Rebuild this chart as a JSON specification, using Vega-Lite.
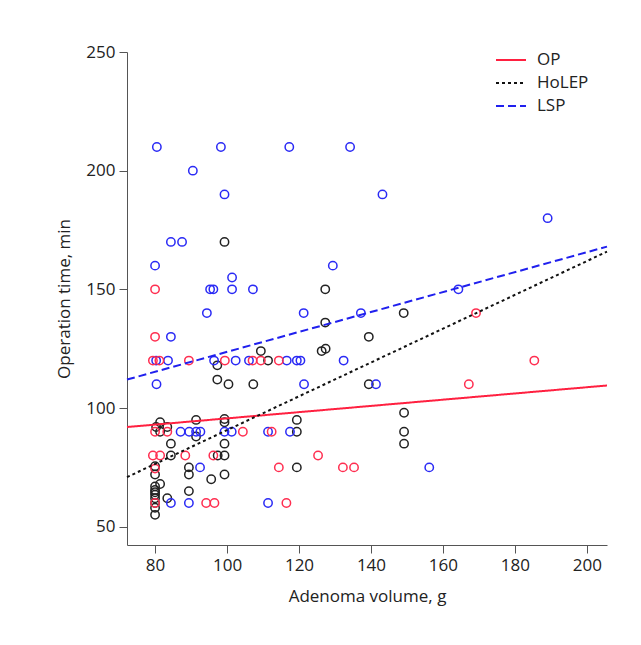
{
  "$schema": "https://vega.github.io/schema/vega-lite/v6.json",
  "autosize": "none",
  "width": 480,
  "height": 493,
  "padding": {"left": 127, "top": 52, "right": 34, "bottom": 100},
  "background": "white",
  "config": {
    "font": "Open Sans",
    "view": {"stroke": null},
    "axis": {"labelFont": "Open Sans", "titleFont": "Open Sans", "labelFontSize": 17, "titleFontSize": 17, "titleFontWeight": "normal", "labelColor": "#222", "titleColor": "#222", "domainColor": "#555", "tickColor": "#555", "tickSize": 8, "grid": false, "labelPadding": 4},
    "legend": {"orient": "none", "legendX": 368, "legendY": 0, "symbolType": "stroke", "symbolSize": 900, "symbolStrokeWidth": 2, "labelFontSize": 17, "labelFont": "Open Sans", "labelColor": "#222", "clipHeight": 16, "rowPadding": 6, "labelOffset": 10}
  },
  "datasets": {
    "pts": [
      {"g": "OP", "x": 80, "y": 150}, {"g": "OP", "x": 80, "y": 130}, {"g": "OP", "x": 79.4, "y": 120}, {"g": "OP", "x": 81.2, "y": 120},
      {"g": "OP", "x": 89.4, "y": 120}, {"g": "OP", "x": 99.4, "y": 120}, {"g": "OP", "x": 107.1, "y": 120}, {"g": "OP", "x": 109.4, "y": 120},
      {"g": "OP", "x": 114.4, "y": 120}, {"g": "OP", "x": 80, "y": 90}, {"g": "OP", "x": 83.4, "y": 90}, {"g": "OP", "x": 104.4, "y": 90},
      {"g": "OP", "x": 112.4, "y": 90}, {"g": "OP", "x": 79.4, "y": 80}, {"g": "OP", "x": 81.4, "y": 80}, {"g": "OP", "x": 88.4, "y": 80},
      {"g": "OP", "x": 96.2, "y": 80}, {"g": "OP", "x": 125.3, "y": 80}, {"g": "OP", "x": 80, "y": 74.5}, {"g": "OP", "x": 114.4, "y": 75},
      {"g": "OP", "x": 132.2, "y": 75}, {"g": "OP", "x": 135.3, "y": 75}, {"g": "OP", "x": 80, "y": 60}, {"g": "OP", "x": 94.2, "y": 60},
      {"g": "OP", "x": 96.5, "y": 60}, {"g": "OP", "x": 116.5, "y": 60}, {"g": "OP", "x": 169.2, "y": 140}, {"g": "OP", "x": 185.4, "y": 120},
      {"g": "OP", "x": 167.2, "y": 110},
      {"g": "LSP", "x": 80.5, "y": 210}, {"g": "LSP", "x": 98.3, "y": 210}, {"g": "LSP", "x": 117.3, "y": 210}, {"g": "LSP", "x": 134.2, "y": 210},
      {"g": "LSP", "x": 90.5, "y": 200}, {"g": "LSP", "x": 99.3, "y": 190}, {"g": "LSP", "x": 143.2, "y": 190}, {"g": "LSP", "x": 189.1, "y": 180},
      {"g": "LSP", "x": 84.4, "y": 170}, {"g": "LSP", "x": 87.5, "y": 170}, {"g": "LSP", "x": 80, "y": 160}, {"g": "LSP", "x": 129.4, "y": 160},
      {"g": "LSP", "x": 101.4, "y": 155}, {"g": "LSP", "x": 95.3, "y": 150}, {"g": "LSP", "x": 96.2, "y": 150}, {"g": "LSP", "x": 101.4, "y": 150},
      {"g": "LSP", "x": 107.2, "y": 150}, {"g": "LSP", "x": 164.3, "y": 150}, {"g": "LSP", "x": 94.4, "y": 140}, {"g": "LSP", "x": 121.3, "y": 140},
      {"g": "LSP", "x": 137.2, "y": 140}, {"g": "LSP", "x": 84.4, "y": 130}, {"g": "LSP", "x": 80.3, "y": 120}, {"g": "LSP", "x": 83.6, "y": 120},
      {"g": "LSP", "x": 96.4, "y": 120}, {"g": "LSP", "x": 102.4, "y": 120}, {"g": "LSP", "x": 106.1, "y": 120}, {"g": "LSP", "x": 116.6, "y": 120},
      {"g": "LSP", "x": 119.4, "y": 120}, {"g": "LSP", "x": 120.4, "y": 120}, {"g": "LSP", "x": 132.4, "y": 120}, {"g": "LSP", "x": 80.4, "y": 110},
      {"g": "LSP", "x": 121.4, "y": 110}, {"g": "LSP", "x": 141.4, "y": 110}, {"g": "LSP", "x": 87.1, "y": 90}, {"g": "LSP", "x": 89.5, "y": 90},
      {"g": "LSP", "x": 91.4, "y": 90}, {"g": "LSP", "x": 92.6, "y": 90}, {"g": "LSP", "x": 99.3, "y": 90}, {"g": "LSP", "x": 101.3, "y": 90},
      {"g": "LSP", "x": 111.4, "y": 90}, {"g": "LSP", "x": 117.5, "y": 90}, {"g": "LSP", "x": 92.5, "y": 75}, {"g": "LSP", "x": 156.2, "y": 75},
      {"g": "LSP", "x": 84.4, "y": 60}, {"g": "LSP", "x": 89.4, "y": 60}, {"g": "LSP", "x": 111.4, "y": 60},
      {"g": "HoLEP", "x": 99.3, "y": 170}, {"g": "HoLEP", "x": 127.3, "y": 150}, {"g": "HoLEP", "x": 149.1, "y": 140}, {"g": "HoLEP", "x": 127.3, "y": 136},
      {"g": "HoLEP", "x": 139.4, "y": 130}, {"g": "HoLEP", "x": 109.4, "y": 124}, {"g": "HoLEP", "x": 126.3, "y": 124}, {"g": "HoLEP", "x": 127.4, "y": 125},
      {"g": "HoLEP", "x": 111.4, "y": 120}, {"g": "HoLEP", "x": 97.3, "y": 118}, {"g": "HoLEP", "x": 97.3, "y": 112}, {"g": "HoLEP", "x": 100.4, "y": 110},
      {"g": "HoLEP", "x": 107.3, "y": 110}, {"g": "HoLEP", "x": 139.4, "y": 110}, {"g": "HoLEP", "x": 149.2, "y": 98}, {"g": "HoLEP", "x": 81.4, "y": 94},
      {"g": "HoLEP", "x": 91.4, "y": 95}, {"g": "HoLEP", "x": 99.3, "y": 95.4}, {"g": "HoLEP", "x": 99.3, "y": 94}, {"g": "HoLEP", "x": 119.4, "y": 95},
      {"g": "HoLEP", "x": 80.3, "y": 92}, {"g": "HoLEP", "x": 83.4, "y": 92}, {"g": "HoLEP", "x": 81.4, "y": 90}, {"g": "HoLEP", "x": 119.4, "y": 90},
      {"g": "HoLEP", "x": 149.2, "y": 90}, {"g": "HoLEP", "x": 91.4, "y": 88}, {"g": "HoLEP", "x": 84.4, "y": 85}, {"g": "HoLEP", "x": 99.3, "y": 85},
      {"g": "HoLEP", "x": 149.2, "y": 85}, {"g": "HoLEP", "x": 84.4, "y": 80}, {"g": "HoLEP", "x": 97.4, "y": 80}, {"g": "HoLEP", "x": 99.3, "y": 80},
      {"g": "HoLEP", "x": 80, "y": 75.5}, {"g": "HoLEP", "x": 119.4, "y": 75}, {"g": "HoLEP", "x": 89.4, "y": 75}, {"g": "HoLEP", "x": 89.4, "y": 72},
      {"g": "HoLEP", "x": 99.3, "y": 72}, {"g": "HoLEP", "x": 80, "y": 72}, {"g": "HoLEP", "x": 95.6, "y": 70}, {"g": "HoLEP", "x": 81.4, "y": 68},
      {"g": "HoLEP", "x": 80, "y": 67}, {"g": "HoLEP", "x": 80, "y": 65.5}, {"g": "HoLEP", "x": 80, "y": 64.5}, {"g": "HoLEP", "x": 80, "y": 63.5},
      {"g": "HoLEP", "x": 80, "y": 62}, {"g": "HoLEP", "x": 89.4, "y": 65}, {"g": "HoLEP", "x": 83.4, "y": 62}, {"g": "HoLEP", "x": 80, "y": 60},
      {"g": "HoLEP", "x": 80, "y": 58}, {"g": "HoLEP", "x": 80, "y": 55}
    ],
    "fits": [
      {"g": "OP", "x": 72.2, "y": 92.0}, {"g": "OP", "x": 205.6, "y": 109.5},
      {"g": "HoLEP", "x": 72.2, "y": 70.9}, {"g": "HoLEP", "x": 205.6, "y": 165.9},
      {"g": "LSP", "x": 72.2, "y": 112.0}, {"g": "LSP", "x": 205.6, "y": 168.0}
    ]
  },
  "encoding": {
    "x": {"field": "x", "type": "quantitative", "scale": {"domain": [72.2, 205.6], "nice": false, "zero": false}, "axis": {"values": [80, 100, 120, 140, 160, 180, 200], "title": "Adenoma volume, g", "titlePadding": 15}},
    "y": {"field": "y", "type": "quantitative", "scale": {"domain": [42.3, 250], "nice": false, "zero": false}, "axis": {"values": [50, 100, 150, 200, 250], "title": "Operation time, min", "titlePadding": 12}}
  },
  "layer": [
    {
      "data": {"name": "pts"},
      "transform": [{"filter": "datum.g === 'HoLEP'"}],
      "mark": {"type": "point", "shape": "circle", "filled": false, "size": 70, "strokeWidth": 1.5, "opacity": 1, "color": "#222222"}
    },
    {
      "data": {"name": "pts"},
      "transform": [{"filter": "datum.g === 'LSP'"}],
      "mark": {"type": "point", "shape": "circle", "filled": false, "size": 70, "strokeWidth": 1.5, "opacity": 1, "color": "#2A2AF5"}
    },
    {
      "data": {"name": "pts"},
      "transform": [{"filter": "datum.g === 'OP'"}],
      "mark": {"type": "point", "shape": "circle", "filled": false, "size": 70, "strokeWidth": 1.5, "opacity": 1, "color": "#FF2E50"}
    },
    {
      "data": {"name": "fits"},
      "mark": {"type": "line", "strokeWidth": 2},
      "encoding": {
        "color": {"field": "g", "type": "nominal", "title": null, "scale": {"domain": ["OP", "HoLEP", "LSP"], "range": ["#FF2040", "#111111", "#2020EE"]}},
        "strokeDash": {"field": "g", "type": "nominal", "title": null, "scale": {"domain": ["OP", "HoLEP", "LSP"], "range": [[1, 0], [3, 3], [8, 4]]}}
      }
    }
  ]
}
